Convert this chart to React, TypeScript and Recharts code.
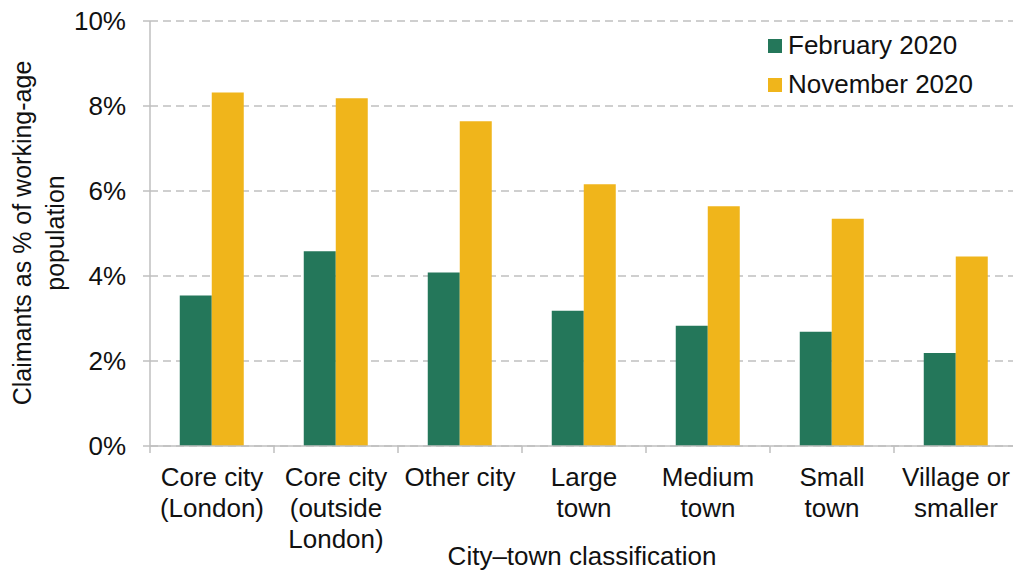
import React from "react";
import { BarChart, Bar, XAxis, YAxis, CartesianGrid } from "recharts";

const categories = [
  "Core city\n(London)",
  "Core city\n(outside\nLondon)",
  "Other city",
  "Large\ntown",
  "Medium\ntown",
  "Small\ntown",
  "Village or\nsmaller",
];
const feb2020 = [3.54, 4.58, 4.08, 3.18, 2.83, 2.69, 2.19];
const nov2020 = [8.32, 8.18, 7.64, 6.16, 5.64, 5.35, 4.46];
const yTicks = [0, 2, 4, 6, 8, 10];
const seriesNames = ["February 2020", "November 2020"];

const GREEN = "#24775A";
const YELLOW = "#F0B51B";
const FONT = "'Liberation Sans', Arial, sans-serif";

const data = categories.map((c, i) => ({ cat: c, feb: feb2020[i], nov: nov2020[i] }));

const W = 1013;
const H = 572;
const LEFT = 150;
const RIGHT = -5;
const XAXIS_H = 126;
const BAND = (W - LEFT - RIGHT) / categories.length;

const XTick = (props: any) => {
  const { x, y, payload } = props;
  const lines = String(payload.value).split("\n");
  return (
    <g>
      <line x1={x - BAND / 2} x2={x - BAND / 2} y1={y - 8} y2={y - 1} stroke="#bfbfbf" strokeWidth={1.5} />
      <text x={x} y={y} textAnchor="middle" fontFamily={FONT} fontSize={26} fill="#111">
        {lines.map((l, i) => (
          <tspan key={i} x={x} y={y + 32 + i * 31}>
            {l}
          </tspan>
        ))}
      </text>
    </g>
  );
};

export default function App() {
  return (
    <div style={{ position: "absolute", left: 0, top: 0, width: W, height: H, background: "#fff", overflow: "hidden" }}>
      <BarChart
        width={W}
        height={H}
        data={data}
        margin={{ top: 21, right: RIGHT, bottom: 0, left: 0 }}
        barCategoryGap="24%"
        barGap={0}
      >
        <CartesianGrid
          vertical={false}
          stroke="#c0c0c0"
          strokeDasharray="8 5"
          strokeWidth={1.5}
        />
        <XAxis
          dataKey="cat"
          interval={0}
          tick={<XTick />}
          tickLine={false}
          axisLine={{ stroke: "#bfbfbf", strokeWidth: 1.5 }}
          height={XAXIS_H}
        />
        <YAxis
          width={LEFT}
          domain={[0, 10]}
          ticks={yTicks}
          tickFormatter={(v: number) => `${v}%`}
          tick={{ fontFamily: FONT, fontSize: 26, fill: "#111" }}
          tickLine={{ stroke: "#bfbfbf", strokeWidth: 1.5 }}
          tickSize={7}
          tickMargin={17}
          axisLine={{ stroke: "#bfbfbf", strokeWidth: 1.5 }}
        />
        <Bar dataKey="feb" name={seriesNames[0]} fill={GREEN} isAnimationActive={false} />
        <Bar dataKey="nov" name={seriesNames[1]} fill={YELLOW} isAnimationActive={false} />
      </BarChart>
      <div
        style={{
          position: "absolute",
          left: 768,
          top: 26,
          fontFamily: FONT,
          fontSize: 26,
          color: "#111",
          lineHeight: "39px",
        }}
      >
        {seriesNames.map((n, i) => (
          <div key={n} style={{ display: "flex", alignItems: "center", height: 39 }}>
            <span
              style={{
                display: "inline-block",
                width: 14,
                height: 14,
                background: i === 0 ? GREEN : YELLOW,
                marginRight: 6,
              }}
            />
            <span>{n}</span>
          </div>
        ))}
      </div>
      <svg
        width={W}
        height={H}
        style={{ position: "absolute", left: 0, top: 0, pointerEvents: "none" }}
      >
        <text
          transform="translate(31,233) rotate(-90)"
          textAnchor="middle"
          fontFamily={FONT}
          fontSize={25}
          fill="#111"
        >
          <tspan x={0} y={0}>Claimants as % of working-age</tspan>
          <tspan x={0} y={33}>population</tspan>
        </text>
        <text x={582} y={565} textAnchor="middle" fontFamily={FONT} fontSize={26} fill="#111">
          City–town classification
        </text>
      </svg>
    </div>
  );
}
